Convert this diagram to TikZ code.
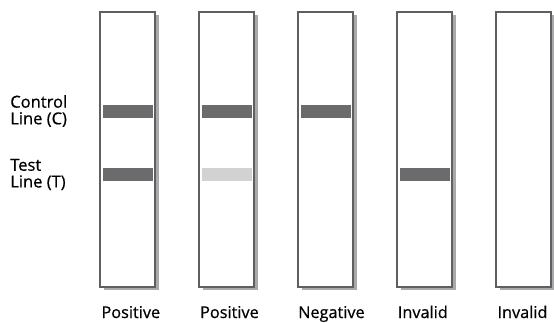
\documentclass[tikz,border=0pt]{standalone}
\usepackage{fontspec}
\setmainfont{Open Sans}
\usetikzlibrary{positioning,shadows}
\definecolor{stripedge}{HTML}{5F5F62}
\definecolor{stripshade}{HTML}{A9A9AB}
\definecolor{bandfull}{HTML}{6B6B6E}
\definecolor{bandfaint}{HTML}{D2D2D3}

\begin{document}
\begin{tikzpicture}[x=0.75pt,y=-0.75pt,node distance=74.25pt,
  strip/.style={rectangle,draw=stripedge,line width=1.1pt,fill=white,minimum width=41.25pt,minimum height=206.25pt,inner sep=0pt,drop shadow={shadow xshift=3pt,shadow yshift=-2.5pt,fill=stripshade,opacity=1}},
  band/.style={rectangle,fill=bandfull,minimum width=37.5pt,minimum height=9.75pt,inner sep=0pt},
  faint band/.style={band,fill=bandfaint},
  result/.style={anchor=base west,font=\fontsize{12.2pt}{12.5pt}\selectfont\addfontfeatures{FakeBold=0.6},inner sep=0pt},
  line label/.style={anchor=west,align=left,font=\fontsize{12.4pt}{12.5pt}\selectfont\addfontfeatures{FakeBold=0.6},inner sep=0pt}]

            \useasboundingbox (0,0) rectangle (554,322);

            \coordinate (cy) at (0,111);
            \coordinate (ty) at (0,174.5);
            \coordinate (ry) at (0,318);

            \node[strip] (s1) at (127.5,149.5) {};
            \node[strip] (s2) [right of = s1] {};
            \node[strip] (s3) [right of = s2] {};
            \node[strip] (s4) [right of = s3] {};
            \node[strip] (s5) [right of = s4] {};

            % control and test lines
            \node[band] (c1) at (s1 |- cy) {};
            \node[band] (t1) at (s1 |- ty) {};
            \node[band] (c2) at (s2 |- cy) {};
            \node[faint band] (t2) at (s2 |- ty) {};
            \node[band] (c3) at (s3 |- cy) {};
            \node[band] (t4) at (s4 |- ty) {};

            \node[line label] (cl) at (10,111) {Control\\Line (C)};
            \node[line label] (tl) at (10,174.5) {Test\\Line (T)};

            \node[result] (r1) at ([xshift=1.5pt]s1.west |- ry) {Positive};
            \node[result] (r2) at ([xshift=1.2pt]s2.west |- ry) {Positive};
            \node[result] (r3) at ([xshift=0.5pt]s3.west |- ry) {Negative};
            \node[result] (r4) at ([xshift=1pt]s4.west |- ry) {Invalid};
            \node[result] (r5) at ([xshift=1.5pt]s5.west |- ry) {Invalid};

        \end{tikzpicture}
\end{document}
